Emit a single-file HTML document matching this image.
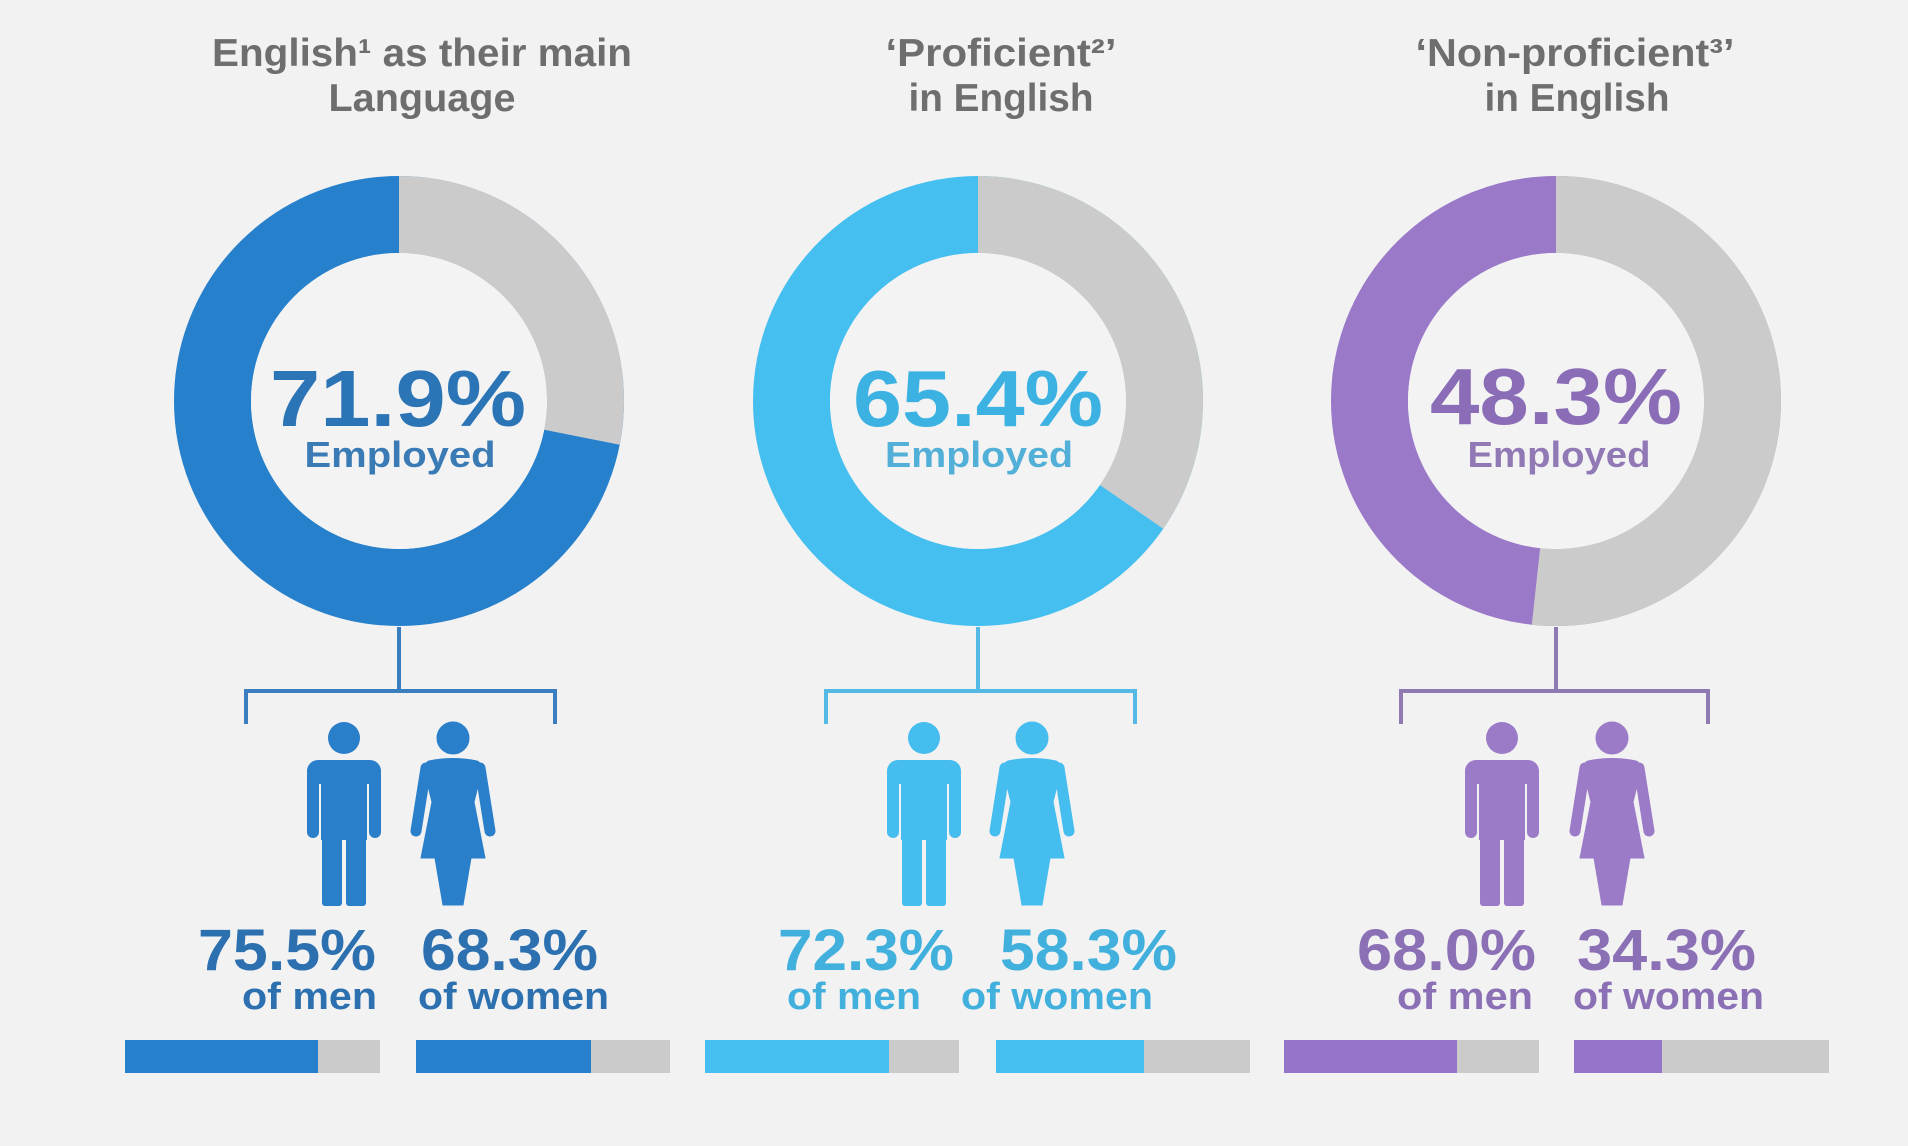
<!DOCTYPE html>
<html>
<head>
<meta charset="utf-8">
<style>
  html,body{margin:0;padding:0;background:#f2f2f2;}
  svg{display:block;}
  text{font-family:"Liberation Sans","DejaVu Sans",sans-serif;font-weight:bold;}
</style>
</head>
<body>
<svg width="1908" height="1146" viewBox="0 0 1908 1146" xmlns="http://www.w3.org/2000/svg">
  <rect x="0" y="0" width="1908" height="1146" fill="#f2f2f2"/>

  <!-- Titles -->
  <g fill="#6e6e6e" font-size="39">
    <text x="422" y="66" text-anchor="middle" textLength="420" lengthAdjust="spacingAndGlyphs">English¹ as their main</text>
    <text x="422" y="111" text-anchor="middle" textLength="187" lengthAdjust="spacingAndGlyphs">Language</text>
    <text x="1001" y="66" text-anchor="middle" textLength="231" lengthAdjust="spacingAndGlyphs">‘Proficient²’</text>
    <text x="1001" y="111" text-anchor="middle" textLength="185" lengthAdjust="spacingAndGlyphs">in English</text>
    <text x="1575" y="66" text-anchor="middle" textLength="319" lengthAdjust="spacingAndGlyphs">‘Non-proficient³’</text>
    <text x="1577" y="111" text-anchor="middle" textLength="185" lengthAdjust="spacingAndGlyphs">in English</text>
  </g>

  <!-- Donut 1 -->
  <circle cx="399" cy="401" r="186.5" fill="none" stroke="#2680cc" stroke-width="77"/>
  <circle cx="399" cy="401" r="186.5" fill="none" stroke="#cbcbcb" stroke-width="77"
          stroke-dasharray="329.3 2000" transform="rotate(-90 399 401)"/>
  <circle cx="399" cy="401" r="148" fill="#f3f3f3"/>
  <text x="398" y="426" text-anchor="middle" font-size="80" fill="#2b74b6" textLength="256" lengthAdjust="spacingAndGlyphs">71.9%</text>
  <text x="400" y="467" text-anchor="middle" font-size="36" fill="#3a7ab5" textLength="191" lengthAdjust="spacingAndGlyphs">Employed</text>

  <!-- Donut 2 -->
  <circle cx="978" cy="401" r="186.5" fill="none" stroke="#45bff0" stroke-width="77"/>
  <circle cx="978" cy="401" r="186.5" fill="none" stroke="#cbcbcb" stroke-width="77"
          stroke-dasharray="405.4 2000" transform="rotate(-90 978 401)"/>
  <circle cx="978" cy="401" r="148" fill="#f3f3f3"/>
  <text x="978" y="426" text-anchor="middle" font-size="80" fill="#3cb2e2" textLength="250" lengthAdjust="spacingAndGlyphs">65.4%</text>
  <text x="979" y="467" text-anchor="middle" font-size="36" fill="#52afd8" textLength="188" lengthAdjust="spacingAndGlyphs">Employed</text>

  <!-- Donut 3 -->
  <circle cx="1556" cy="401" r="186.5" fill="none" stroke="#9a79c8" stroke-width="77"/>
  <circle cx="1556" cy="401" r="186.5" fill="none" stroke="#cbcbcb" stroke-width="77"
          stroke-dasharray="605.8 2000" transform="rotate(-90 1556 401)"/>
  <circle cx="1556" cy="401" r="148" fill="#f3f3f3"/>
  <text x="1556" y="424" text-anchor="middle" font-size="80" fill="#8a6db6" textLength="252" lengthAdjust="spacingAndGlyphs">48.3%</text>
  <text x="1559" y="467" text-anchor="middle" font-size="36" fill="#9079b5" textLength="183" lengthAdjust="spacingAndGlyphs">Employed</text>

  <!-- Connectors / brackets -->
  <g fill="none" stroke-width="4">
    <path d="M399 627 V691 M246 724 V691 H555 V724" stroke="#3a7ebf"/>
    <path d="M978 627 V691 M826 724 V691 H1135 V724" stroke="#55b9e6"/>
    <path d="M1556 627 V691 M1401 724 V691 H1708 V724" stroke="#8f7bb2"/>
  </g>

  <!-- Icon definitions -->
  <defs>
    <g id="man">
      <circle cx="0" cy="738" r="16"/>
      <rect x="-37" y="760" width="74" height="24" rx="11"/>
      <rect x="-37" y="770" width="12" height="68" rx="6"/>
      <rect x="25" y="770" width="12" height="68" rx="6"/>
      <rect x="-23" y="770" width="46" height="70"/>
      <rect x="-22" y="832" width="20" height="74" rx="3"/>
      <rect x="2" y="832" width="20" height="74" rx="3"/>
    </g>
    <g id="woman">
      <circle cx="0" cy="738" r="16"/>
      <path d="M-24 761 Q0 756 24 761 Q29 763 29 770 L21 802 L32 858 L18 858 L10 905 L-10 905 L-18 858 L-32 858 L-21 802 L-29 770 Q-29 763 -24 761 Z"/>
      <line x1="-27" y1="768" x2="-37" y2="831" stroke-width="11" stroke-linecap="round"/>
      <line x1="27" y1="768" x2="37" y2="831" stroke-width="11" stroke-linecap="round"/>
    </g>
  </defs>

  <g fill="#2a7fca" stroke="#2a7fca">
    <use href="#man" x="344" stroke="none"/>
    <use href="#woman" x="453"/>
  </g>
  <g fill="#45bdef" stroke="#45bdef">
    <use href="#man" x="924" stroke="none"/>
    <use href="#woman" x="1032"/>
  </g>
  <g fill="#9b7ac8" stroke="#9b7ac8">
    <use href="#man" x="1502" stroke="none"/>
    <use href="#woman" x="1612"/>
  </g>

  <!-- Percent labels -->
  <g fill="#2c70b0">
    <text x="198" y="970" font-size="58" textLength="178" lengthAdjust="spacingAndGlyphs">75.5%</text>
    <text x="242" y="1009" font-size="38" textLength="135" lengthAdjust="spacingAndGlyphs">of men</text>
    <text x="421" y="970" font-size="58" textLength="177" lengthAdjust="spacingAndGlyphs">68.3%</text>
    <text x="418" y="1009" font-size="38" textLength="191" lengthAdjust="spacingAndGlyphs">of women</text>
  </g>
  <g fill="#42b0dc">
    <text x="778" y="970" font-size="58" textLength="176" lengthAdjust="spacingAndGlyphs">72.3%</text>
    <text x="787" y="1009" font-size="38" textLength="134" lengthAdjust="spacingAndGlyphs">of men</text>
    <text x="1000" y="970" font-size="58" textLength="177" lengthAdjust="spacingAndGlyphs">58.3%</text>
    <text x="961" y="1009" font-size="38" textLength="192" lengthAdjust="spacingAndGlyphs">of women</text>
  </g>
  <g fill="#8b70b6">
    <text x="1357" y="970" font-size="58" textLength="179" lengthAdjust="spacingAndGlyphs">68.0%</text>
    <text x="1397" y="1009" font-size="38" textLength="136" lengthAdjust="spacingAndGlyphs">of men</text>
    <text x="1577" y="970" font-size="58" textLength="179" lengthAdjust="spacingAndGlyphs">34.3%</text>
    <text x="1573" y="1009" font-size="38" textLength="191" lengthAdjust="spacingAndGlyphs">of women</text>
  </g>

  <!-- Bars -->
  <g>
    <rect x="125" y="1040" width="255" height="33" fill="#cbcbcb"/>
    <rect x="125" y="1040" width="193" height="33" fill="#2680cc"/>
    <rect x="416" y="1040" width="254" height="33" fill="#cbcbcb"/>
    <rect x="416" y="1040" width="175" height="33" fill="#2680cc"/>

    <rect x="705" y="1040" width="254" height="33" fill="#cbcbcb"/>
    <rect x="705" y="1040" width="184" height="33" fill="#45bff0"/>
    <rect x="996" y="1040" width="254" height="33" fill="#cbcbcb"/>
    <rect x="996" y="1040" width="148" height="33" fill="#45bff0"/>

    <rect x="1284" y="1040" width="255" height="33" fill="#cbcbcb"/>
    <rect x="1284" y="1040" width="173" height="33" fill="#9575c9"/>
    <rect x="1574" y="1040" width="255" height="33" fill="#cbcbcb"/>
    <rect x="1574" y="1040" width="88" height="33" fill="#9575c9"/>
  </g>
</svg>
</body>
</html>
